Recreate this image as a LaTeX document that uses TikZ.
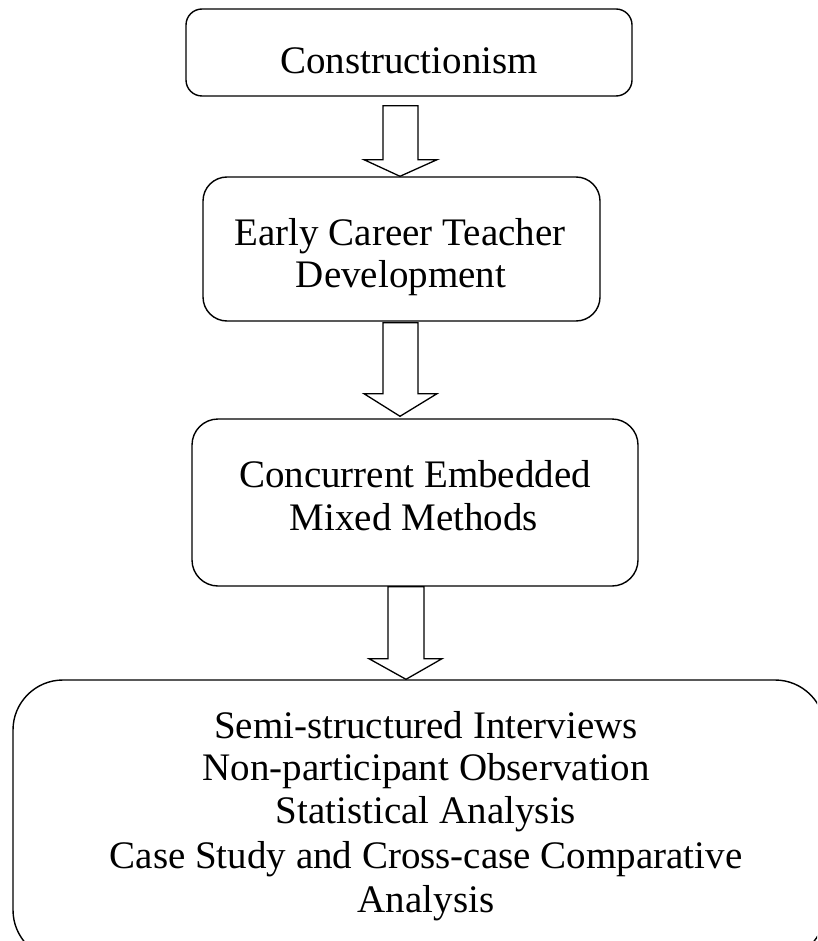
\documentclass[tikz,border=0pt]{standalone}
\usepackage{fontspec}
\setmainfont{Liberation Serif}
\usetikzlibrary{calc}
\begin{document}
\begin{tikzpicture}[x=1pt,y=-1pt,
  box/.style={draw=black, line width=1.4pt, inner sep=0pt},
  txt/.style={anchor=base, inner sep=0pt, font=\fontsize{39}{43}\selectfont},
  blockarrow/.style={draw=black, line width=1.3pt, fill=white, line join=miter}]
\useasboundingbox (0,0) rectangle (817,941);
\clip (0,0) rectangle (817,941);

% boxes
\node[box, rounded corners=16pt, minimum width=446pt, minimum height=87pt] (b1) at (409,52.5) {};
\node[box, rounded corners=24pt, minimum width=397pt, minimum height=144pt] (b2) at (401.5,249) {};
\node[box, rounded corners=26pt, minimum width=446pt, minimum height=167pt] (b3) at (415,502.5) {};
\node[box, rounded corners=50pt, minimum width=812pt, minimum height=280pt] (b4) at (419,820) {};

% labels
\node[txt] (t1) at (409,74) {Constructionism};
\node[txt] (t2a) at (400,245) {Early Career Teacher};
\node[txt] (t2b) at (401,287) {Development};
\node[txt] (t3a) at (415,487) {Concurrent Embedded};
\node[txt] (t3b) at (414,530) {Mixed Methods};
\node[txt] (t4a) at (426,738) {Semi-structured Interviews};
\node[txt] (t4b) at (426,780) {Non-participant Observation};
\node[txt] (t4c) at (426,823) {Statistical Analysis};
\node[txt] (t4d) at (426,868) {Case Study and Cross-case Comparative};
\node[txt] (t4e) at (426,912) {Analysis};

% hollow block arrows between the boxes
\draw[blockarrow] ($(b1.south)+(-26,9)$) -- ($(b1.south)+(9,9)$) -- ($(b1.south)+(9,63)$)
  -- ($(b1.south)+(28,63)$) -- ($(b2.north)+(-1.5,0)$) -- ($(b1.south)+(-45,63)$)
  -- ($(b1.south)+(-26,63)$) -- cycle;
\draw[blockarrow] ($(b2.south)+(-18.5,1)$) -- ($(b2.south)+(16.5,1)$) -- ($(b2.south)+(16.5,72)$)
  -- ($(b2.south)+(35.5,72)$) -- ($(b3.north)+(-15,-2)$) -- ($(b2.south)+(-37.5,72)$)
  -- ($(b2.south)+(-18.5,72)$) -- cycle;
\draw[blockarrow] ($(b3.south)+(-27,0)$) -- ($(b3.south)+(9,0)$) -- ($(b3.south)+(9,72)$)
  -- ($(b3.south)+(27,72)$) -- ($(b4.north)+(-13,0)$) -- ($(b3.south)+(-46,72)$)
  -- ($(b3.south)+(-27,72)$) -- cycle;
\end{tikzpicture}
\end{document}
